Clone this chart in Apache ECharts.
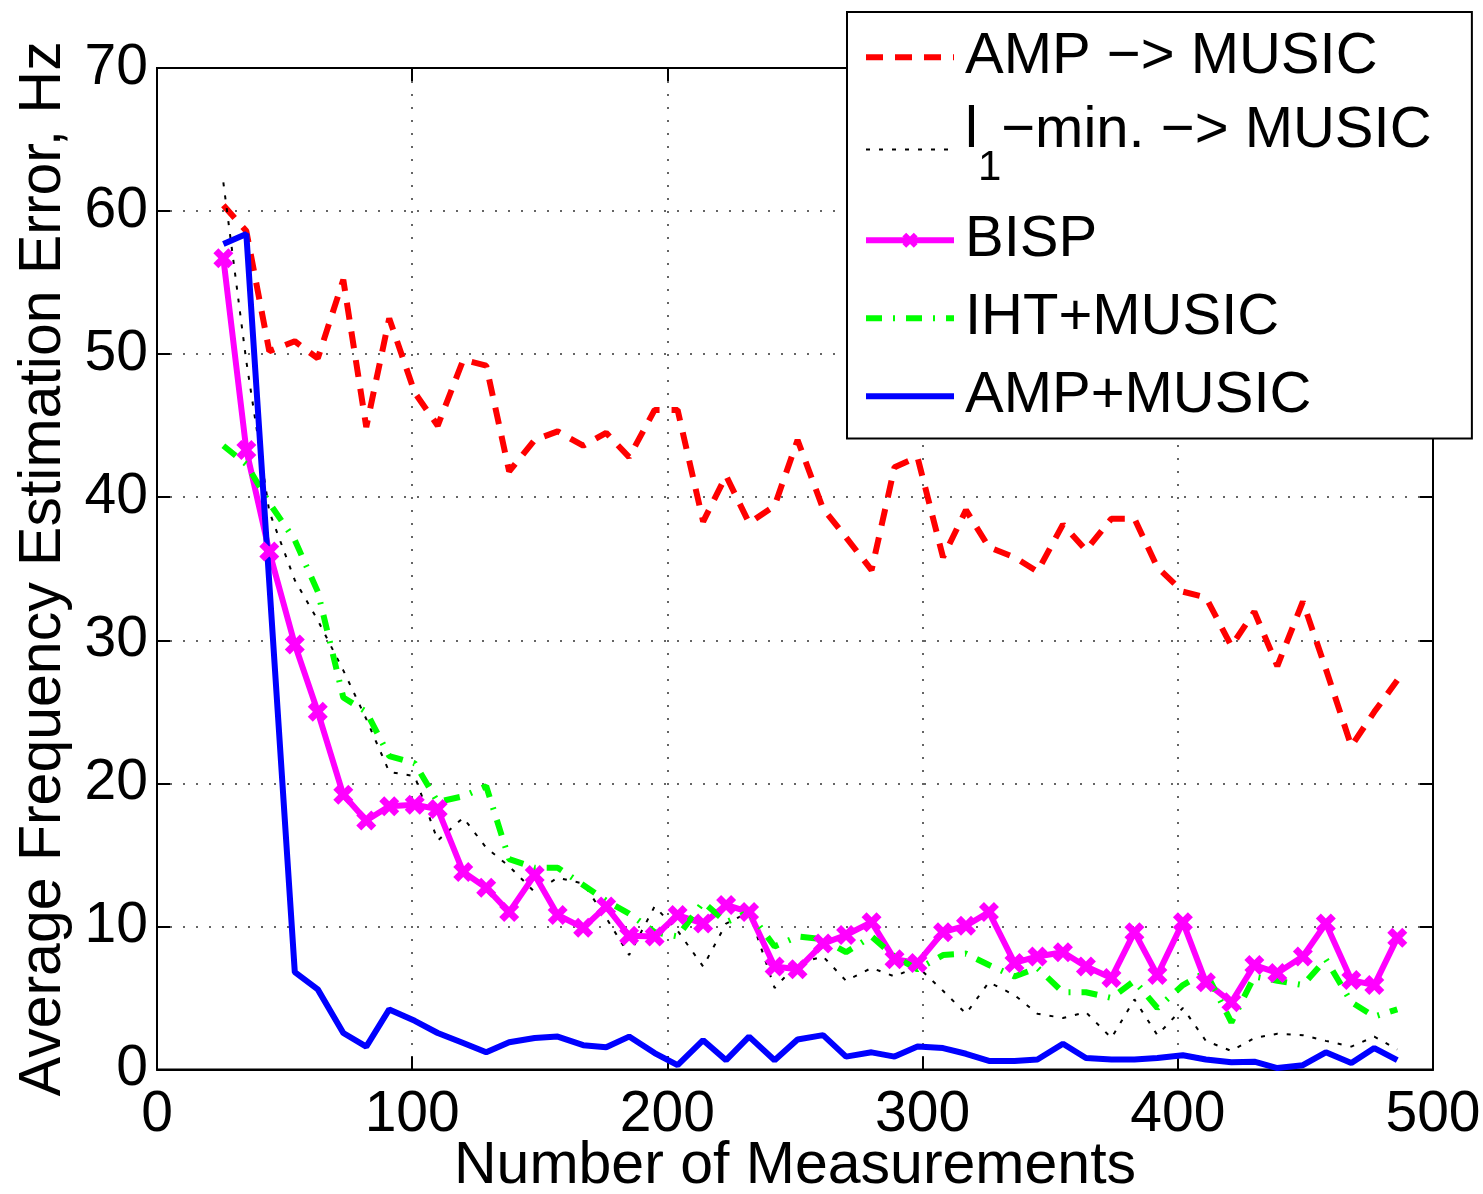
<!DOCTYPE html>
<html>
<head>
<meta charset="utf-8">
<script src="https://cdn.jsdelivr.net/npm/echarts@6/dist/echarts.min.js"></script>
<style>
  html, body { margin: 0; padding: 0; background: #fff; }
  #chart { width: 1483px; height: 1194px; }
</style>
</head>
<body>
<div id="chart"></div>
<script>
  // number of measurements (x)
  const measurements = [26, 35, 44, 54, 63, 73, 82, 91, 101, 110, 120, 129, 138, 148, 157, 167, 176, 185, 195, 204,
    214, 223, 232, 242, 251, 261, 270, 280, 289, 298, 308, 317, 326, 336, 345, 355, 364, 374, 383, 392,
    402, 411, 421, 430, 439, 449, 458, 468, 477, 486]
  // average error, Hz
  const ampThenMusic = [60.4, 58.6, 50.2, 50.9, 49.7, 55.2, 44.9, 52.5, 47.3, 45.0, 49.6, 49.2, 41.8, 44.0, 44.6, 43.6, 44.5, 42.8, 46.1, 46.1,
    38.3, 41.5, 38.2, 39.4, 44.0, 39.2, 37.2, 34.9, 42.1, 42.8, 35.8, 39.1, 36.5, 35.8, 34.8, 38.1, 36.3, 38.5, 38.5, 35.1,
    33.4, 33.0, 29.6, 32.0, 28.2, 32.7, 28.0, 22.6, 25.0, 27.2]
  const l1ThenMusic = [62.0, 49.5, 39.0, 34.2, 31.4, 27.9, 24.5, 20.8, 20.5, 16.0, 17.6, 15.5, 14.2, 12.4, 13.4, 13.0, 10.6, 8.0, 11.4, 9.7,
    7.2, 10.2, 11.0, 5.7, 7.4, 7.9, 6.2, 7.1, 6.5, 7.2, 5.5, 3.9, 6.1, 5.2, 3.9, 3.6, 4.0, 2.2, 4.9, 2.4,
    4.3, 2.0, 1.3, 2.2, 2.5, 2.4, 2.0, 1.6, 2.3, 1.4]
  const bisp = [56.7, 43.3, 36.2, 29.7, 25.0, 19.2, 17.4, 18.4, 18.5, 18.2, 13.8, 12.7, 11.0, 13.6, 10.8, 9.9, 11.4, 9.35, 9.3, 10.8,
    10.2, 11.5, 11.0, 7.2, 7.0, 8.8, 9.4, 10.3, 7.7, 7.45, 9.6, 10.05, 11.0, 7.45, 7.9, 8.2, 7.2, 6.4, 9.6, 6.6,
    10.3, 6.1, 4.7, 7.3, 6.75, 7.9, 10.2, 6.25, 5.9, 9.2]
  const ihtMusic = [43.6, 42.3, 39.6, 37.0, 33.4, 26.0, 25.0, 21.9, 21.4, 18.7, 19.1, 19.8, 14.7, 14.1, 14.1, 12.9, 11.8, 10.9, 9.6, 9.3,
    11.7, 10.3, 11.0, 8.6, 9.3, 9.1, 8.2, 9.3, 7.9, 7.0, 8.0, 8.1, 7.3, 6.5, 7.1, 5.4, 5.4, 5.0, 6.2, 4.3,
    5.9, 6.8, 3.3, 6.5, 6.2, 5.9, 7.7, 4.7, 3.7, 4.2]
  const ampMusic = [57.7, 58.4, 34.0, 6.8, 5.6, 2.55, 1.6, 4.2, 3.4, 2.55, 1.85, 1.2, 1.9, 2.2, 2.3, 1.7, 1.55, 2.3, 1.15, 0.3,
    2.05, 0.65, 2.3, 0.65, 2.1, 2.4, 0.9, 1.2, 0.9, 1.6, 1.5, 1.1, 0.6, 0.6, 0.7, 1.8, 0.8, 0.7, 0.7, 0.8,
    1.0, 0.7, 0.5, 0.55, 0.1, 0.3, 1.2, 0.45, 1.5, 0.65]
  const xTicks = [0, 100, 200, 300, 400, 500]
  const yTicks = [0, 10, 20, 30, 40, 50, 60, 70]

  const font = '"Liberation Sans", Arial, Helvetica, sans-serif'
  const xMark = 'path://M0,2.5 L2.5,0 L5,2.5 L7.5,0 L10,2.5 L7.5,5 L10,7.5 L7.5,10 L5,7.5 L2.5,10 L0,7.5 L2.5,5 Z'

  function pairs(ys) {
    return measurements.map((x, i) => [x, ys[i]])
  }

  const myChart = echarts.init(document.getElementById('chart'), null, { renderer: 'canvas' })

  const tickStyle = { show: true, inside: true, length: 13, lineStyle: { color: '#000', width: 2 } }
  const gridDots = { show: true, lineStyle: { color: '#333', width: 1.5, type: [2, 11] } }

  myChart.setOption({
    animation: false,
    backgroundColor: '#fff',
    grid: {
      left: 157, right: 50, top: 68, bottom: 124.5,
      containLabel: false, outerBoundsMode: 'none',
      show: true, borderColor: '#000', borderWidth: 2
    },
    legend: {
      orient: 'vertical',
      left: 847,
      top: 12,
      padding: [12, 37, 9, 16],
      itemGap: 11.5,
      itemWidth: 88,
      itemHeight: 19,
      backgroundColor: '#fff',
      borderColor: '#000',
      borderWidth: 2,
      borderRadius: 0,
      lineStyle: { width: 'inherit' },
      textStyle: {
        fontFamily: font, fontSize: 58, lineHeight: 66.5, color: '#000', padding: [0, 0, 0, 6],
        rich: {
          a: { fontFamily: font, fontSize: 58, padding: [0, 0, 37, 0], color: '#000' },
          s: { fontFamily: font, fontSize: 42, padding: [37, 0, 0, 0], color: '#000' },
          e: { fontFamily: font, fontSize: 12, padding: [80, 0, 0, 0], color: '#000' }
        }
      },
      formatter: function (name) {
        if (name === 'l1') return '{a|l}{s|1}{a|\u2212min. \u2212> MUSIC}{e| }'
        return name
      },
      data: ['AMP \u2212> MUSIC', 'l1', 'BISP', 'IHT+MUSIC', 'AMP+MUSIC']
    },
    xAxis: [{
      type: 'value',
      min: xTicks[0],
      max: xTicks[xTicks.length - 1],
      interval: 100,
      name: 'Number of Measurements',
      nameLocation: 'middle',
      nameGap: 68,
      nameMoveOverlap: false,
      nameTextStyle: { fontFamily: font, fontSize: 59, color: '#000' },
      axisLine: { show: true, onZero: false, lineStyle: { color: '#000', width: 2 } },
      axisTick: tickStyle,
      axisLabel: { fontFamily: font, fontSize: 57, color: '#000', margin: 17, showMinLabel: true, showMaxLabel: true },
      splitLine: gridDots
    }, {
      type: 'value',
      position: 'top',
      min: xTicks[0],
      max: xTicks[xTicks.length - 1],
      interval: 100,
      axisLine: { show: true, onZero: false, lineStyle: { color: '#000', width: 2 } },
      axisTick: tickStyle,
      axisLabel: { show: false },
      splitLine: { show: false }
    }],
    yAxis: [{
      type: 'value',
      min: yTicks[0],
      max: yTicks[yTicks.length - 1],
      interval: 10,
      name: 'Average Frequency Estimation Error, Hz',
      nameLocation: 'middle',
      nameGap: 84,
      nameTextStyle: { fontFamily: font, fontSize: 59, color: '#000' },
      axisLine: { show: true, onZero: false, lineStyle: { color: '#000', width: 2 } },
      axisTick: tickStyle,
      axisLabel: { fontFamily: font, fontSize: 57, color: '#000', margin: 9, showMinLabel: true, showMaxLabel: true },
      splitLine: gridDots
    }, {
      type: 'value',
      position: 'right',
      min: yTicks[0],
      max: yTicks[yTicks.length - 1],
      interval: 10,
      axisLine: { show: true, onZero: false, lineStyle: { color: '#000', width: 2 } },
      axisTick: tickStyle,
      axisLabel: { show: false },
      splitLine: { show: false }
    }],
    series: [{
      name: 'AMP \u2212> MUSIC',
      type: 'line',
      symbol: 'none',
      lineStyle: { color: '#ff0000', width: 6, type: [17, 12] },
      itemStyle: { color: '#ff0000', opacity: 0 },
      data: pairs(ampThenMusic)
    }, {
      name: 'l1',
      type: 'line',
      symbol: 'none',
      lineStyle: { color: '#000', width: 2, type: [4, 9] },
      itemStyle: { color: '#000', opacity: 0 },
      data: pairs(l1ThenMusic)
    }, {
      name: 'BISP',
      type: 'line',
      symbol: xMark,
      symbolSize: 20,
      lineStyle: { color: '#ff00ff', width: 6 },
      itemStyle: { color: '#ff00ff' },
      data: pairs(bisp)
    }, {
      name: 'IHT+MUSIC',
      type: 'line',
      symbol: 'none',
      lineStyle: { color: '#00ff00', width: 6, type: [16, 11, 2, 11] },
      itemStyle: { color: '#00ff00', opacity: 0 },
      data: pairs(ihtMusic)
    }, {
      name: 'AMP+MUSIC',
      type: 'line',
      symbol: 'none',
      lineStyle: { color: '#0000ff', width: 6 },
      itemStyle: { color: '#0000ff', opacity: 0 },
      data: pairs(ampMusic)
    }]
  })
</script>
</body>
</html>
